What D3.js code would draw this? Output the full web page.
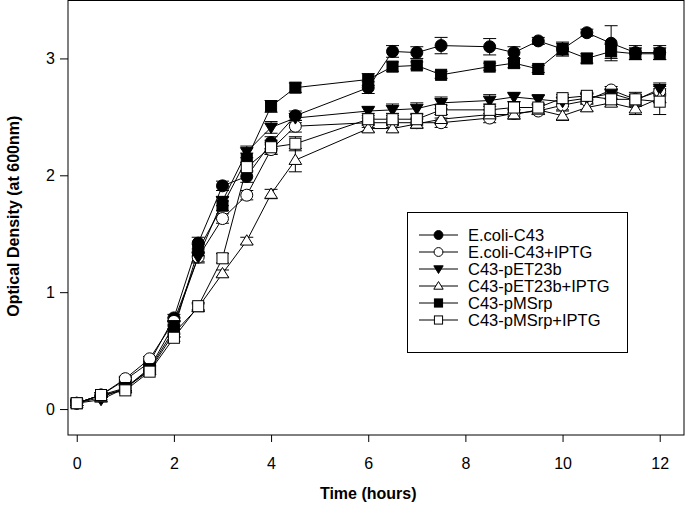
<!DOCTYPE html>
<html><head><meta charset="utf-8">
<script src="https://cdn.jsdelivr.net/npm/d3@7"></script>
<style>body{margin:0;background:#fff}svg{display:block}text{font-family:"Liberation Sans",Arial,sans-serif}</style>
</head><body>
<svg id="c" width="685" height="506"></svg>
<script>
const times = [0,0.5,1,1.5,2,2.5,3,3.5,4,4.5,6,6.5,7,7.5,8.5,9,9.5,10,10.5,11,11.5,12];
const xTicks = [0,2,4,6,8,10,12];
const yTicks = [0,1,2,3];
const seriesNames = ["E.coli-C43","E.coli-C43+IPTG","C43-pET23b","C43-pET23b+IPTG","C43-pMSrp","C43-pMSrp+IPTG"];
const ecoli      = [0.05,0.12,0.25,0.40,0.78,1.42,1.91,1.99,2.28,2.51,2.75,3.06,3.05,3.11,3.10,3.05,3.15,3.08,3.22,3.13,3.05,3.05];
const ecoliErr   = [0.02,0.02,0.02,0.03,0.03,0.05,0.04,0.05,0.05,0.04,0.05,0.05,0.05,0.07,0.07,0.05,0.03,0.05,0.03,0.15,0.06,0.06];
const ecoliI     = [0.05,0.12,0.26,0.43,0.75,1.30,1.63,1.83,2.22,2.42,2.45,2.45,2.45,2.45,2.49,2.53,2.55,2.60,2.64,2.73,2.65,2.72];
const ecoliIErr  = [0.02,0.02,0.02,0.02,0.03,0.04,0.04,0.04,0.04,0.05,0.04,0.04,0.04,0.04,0.04,0.03,0.03,0.04,0.03,0.03,0.04,0.04];
const pet        = [0.05,0.08,0.18,0.35,0.72,1.30,1.78,2.20,2.41,2.49,2.55,2.56,2.57,2.62,2.64,2.67,2.65,2.63,2.66,2.70,2.64,2.74];
const petErr     = [0.02,0.02,0.02,0.02,0.03,0.05,0.04,0.05,0.05,0.04,0.04,0.05,0.05,0.05,0.05,0.04,0.04,0.04,0.04,0.04,0.04,0.05];
const petI       = [0.05,0.10,0.18,0.33,0.65,0.87,1.16,1.44,1.84,2.13,2.40,2.40,2.44,2.48,2.52,2.52,2.56,2.51,2.58,2.62,2.57,2.66];
const petIErr    = [0.02,0.02,0.02,0.02,0.03,0.03,0.03,0.03,0.04,0.10,0.03,0.03,0.04,0.04,0.04,0.04,0.04,0.04,0.03,0.03,0.05,0.04];
const msrp       = [0.05,0.12,0.18,0.34,0.68,1.36,1.74,2.14,2.59,2.75,2.82,2.93,2.94,2.86,2.93,2.96,2.91,3.08,3.00,3.06,3.04,3.04];
const msrpErr    = [0.02,0.02,0.02,0.02,0.03,0.05,0.04,0.05,0.05,0.04,0.05,0.04,0.03,0.03,0.03,0.04,0.03,0.06,0.04,0.06,0.05,0.05];
const msrpI      = [0.05,0.12,0.16,0.32,0.61,0.88,1.29,2.07,2.24,2.27,2.48,2.48,2.48,2.56,2.56,2.58,2.58,2.66,2.68,2.65,2.65,2.63];
const msrpIErr   = [0.02,0.02,0.02,0.02,0.03,0.03,0.04,0.04,0.06,0.06,0.05,0.05,0.05,0.04,0.05,0.05,0.03,0.03,0.03,0.04,0.06,0.11];
const symbols = ["circle","circle","tridown","triup","square","square"];
const fills = ["#000","#fff","#000","#fff","#000","#fff"];
const values = [ecoli,ecoliI,pet,petI,msrp,msrpI];
const errs = [ecoliErr,ecoliIErr,petErr,petIErr,msrpErr,msrpIErr];

const svg = d3.select("#c");
const L=68,R=684,T=0.5,B=435;
const x = d3.scaleLinear().domain([-0.18,12.5]).range([L,R]);
const y = d3.scaleLinear().domain([-0.222,3.5]).range([B,0]);

// frame
svg.append("rect").attr("x",L).attr("y",T).attr("width",R-L).attr("height",B-T)
  .attr("fill","none").attr("stroke","#000").attr("stroke-width",1);

const xa = svg.append("g").attr("transform",`translate(0,${B})`)
  .call(d3.axisBottom(x).tickValues(xTicks).tickSize(7).tickPadding(16).tickFormat(d3.format("d")));
const ya = svg.append("g").attr("transform",`translate(${L},0)`)
  .call(d3.axisLeft(y).tickValues(yTicks).tickSize(8).tickPadding(5).tickFormat(d3.format("d")));
[xa,ya].forEach(a=>{a.select(".domain").remove();a.selectAll("text").attr("font-size",16).attr("fill","#000").style("font-family","Liberation Sans, Arial, sans-serif");a.selectAll("line").attr("stroke","#000");});

svg.append("text").attr("x",x(6)).attr("y",499).attr("text-anchor","middle")
  .attr("font-size",16).attr("font-weight","bold").text("Time (hours)");
svg.append("text").attr("transform",`translate(19,${y(1.65)}) rotate(-90)`).attr("text-anchor","middle")
  .attr("font-size",16).attr("font-weight","bold").text("Optical Density (at 600nm)");

function drawSym(g, type, cx, cy, s, fill){
  if(type==="circle") g.append("circle").attr("cx",cx).attr("cy",cy).attr("r",s*0.52).attr("fill",fill).attr("stroke","#000");
  else if(type==="square") g.append("rect").attr("x",cx-s*0.48).attr("y",cy-s*0.48).attr("width",s*0.96).attr("height",s*0.96).attr("fill",fill).attr("stroke","#000");
  else if(type==="tridown"){const h=s*0.5;g.append("path").attr("d",`M${cx-h*1.1},${cy-h*0.75}L${cx+h*1.1},${cy-h*0.75}L${cx},${cy+h*1.05}Z`).attr("fill",fill).attr("stroke","#000");}
  else if(type==="triup"){const h=s*0.5;g.append("path").attr("d",`M${cx-h*1.1},${cy+h*0.75}L${cx+h*1.1},${cy+h*0.75}L${cx},${cy-h*1.05}Z`).attr("fill",fill).attr("stroke","#000");}
}

const line = d3.line().x((d,i)=>x(times[i])).y(d=>y(d));
const plot = svg.append("g");
values.forEach((vals,si)=>{
  const g = plot.append("g");
  // error bars
  vals.forEach((v,i)=>{
    const e = errs[si][i], cx=x(times[i]);
    g.append("line").attr("x1",cx).attr("x2",cx).attr("y1",y(v-e)).attr("y2",y(v+e)).attr("stroke","#000");
    [v-e,v+e].forEach(w=>g.append("line").attr("x1",cx-6.5).attr("x2",cx+6.5).attr("y1",y(w)).attr("y2",y(w)).attr("stroke","#000"));
  });
  g.append("path").attr("d",line(vals)).attr("fill","none").attr("stroke","#000").attr("stroke-width",1);
});
values.forEach((vals,si)=>{
  const g = plot.append("g");
  vals.forEach((v,i)=>drawSym(g,symbols[si],x(times[i]),y(v),11.5,fills[si]));
});

// legend
const lg = svg.append("g");
lg.append("rect").attr("x",407.5).attr("y",212.5).attr("width",220).attr("height",140).attr("fill","#fff").attr("stroke","#000");
seriesNames.forEach((n,i)=>{
  const yy = 235 + i*17;
  lg.append("line").attr("x1",419).attr("x2",458).attr("y1",yy).attr("y2",yy).attr("stroke","#000");
  drawSym(lg,symbols[i],438.5,yy,8.5,fills[i]);
  lg.append("text").attr("x",468).attr("y",yy+6).attr("font-size",16.5).text(n);
});
</script>
</body></html>
